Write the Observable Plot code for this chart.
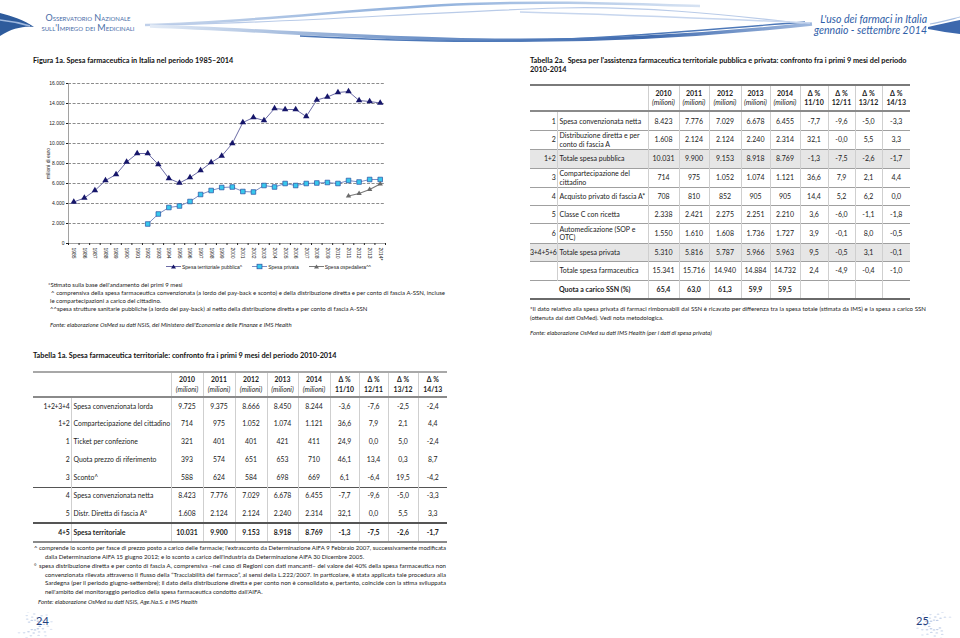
<!DOCTYPE html>
<html><head><meta charset="utf-8">
<script src="https://cdn.jsdelivr.net/npm/d3@7"></script>
<script src="https://cdn.jsdelivr.net/npm/@observablehq/plot@0.6"></script>
<style>
html,body{margin:0;padding:0;background:#fff;}
#page{position:relative;width:960px;height:638px;overflow:hidden;font-family:Lato,"Open Sans",sans-serif;color:#1a1a1a;}
.abs{position:absolute;white-space:nowrap;}
.title{font-weight:bold;font-size:7.3px;color:#111;}
.note{font-size:6px;color:#222;}
.just{text-align:justify;text-align-last:justify;}
.it{font-style:italic;}
table.t{position:absolute;border-collapse:collapse;table-layout:fixed;font-size:7px;color:#222;}
table.t td{padding:0 2px;text-align:center;vertical-align:middle;border-left:1px solid #cfcfcf;border-right:1px solid #cfcfcf;overflow:visible;line-height:1.15;}
table.t td:first-child{border-left:none;}
table.t td:last-child{border-right:none;}
table.t td.num{text-align:right;padding:0 1px 0 0;white-space:nowrap;letter-spacing:-0.25px;}
table.t td.lab{text-align:left;padding-left:2px;white-space:normal;}
#t1a td.lab{white-space:nowrap;}
#t1a{font-size:6.85px;}
table.t tr.hd td{font-weight:bold;line-height:1.35;}
table.t tr.hd td i{font-weight:normal;}
#t2a tr.hd td{border-top:2px solid #7a7a7a;border-bottom:2px solid #8a8a8a;}
#t2a tr.r td{border-top:1.5px solid #a0a0a0;}
#t2a tr.g td{background:#e6e6e6;}
#t2a tr.b td{font-weight:bold;border-bottom:2px solid #6a6a6a;}
#t1a tr.hd td{border-top:2px solid #a8a8a8;border-bottom:2px solid #8a8a8a;}
#t1a tr.k td{border-top:1.5px solid #555;}
#t1a tr.b td{font-weight:bold;border-top:2px solid #555;border-bottom:2px solid #8a8a8a;}
.pn{position:absolute;font-size:11px;color:#1f3f7f;}
</style></head>
<body><div id="page">

<svg class="abs" style="left:0;top:0" width="960" height="50">
  <defs>
    <linearGradient id="gA" x1="0" x2="1"><stop offset="0" stop-color="#c9d7ec"/><stop offset="0.5" stop-color="#8fb0dc"/><stop offset="1" stop-color="#d6e2f2"/></linearGradient>
    <linearGradient id="gB" x1="0" x2="1"><stop offset="0" stop-color="#e3ebf6"/><stop offset="0.4" stop-color="#6f93c8"/><stop offset="0.75" stop-color="#3f6aae"/><stop offset="1" stop-color="#9fb8de"/></linearGradient>
  </defs>
  <path d="M0,13 C12,16 24,20 34,27 C24,26 12,28 0,36 Z" fill="#2e5b9c"/>
  <path d="M0,20 C10,21 20,23 30,26" stroke="#9fb8de" stroke-width="1.5" fill="none"/>
  <path d="M145,25 C260,22 360,8 470,4 C560,1 620,4 700,6" stroke="url(#gA)" stroke-width="2.5" fill="none"/>
  <path d="M145,25 C280,24 420,12 560,8 C640,6 720,14 790,22" stroke="#b9cbe8" stroke-width="1.2" fill="none"/>
  <path d="M150,26 C260,30 360,38 480,40 C600,42 720,34 812,24" stroke="url(#gB)" stroke-width="3.5" fill="none"/>
  <path d="M300,36 C380,40 440,42 500,41 C600,40 700,30 805,22" stroke="#4d78b8" stroke-width="1.4" fill="none"/>
  <path d="M520,12 C600,14 700,18 810,23" stroke="#c7d6ee" stroke-width="1.5" fill="none"/>
  <path d="M928,27 C940,24 950,22 960,20 L960,34 C950,33 940,31 928,29 Z" fill="#3c68ad"/>
  <path d="M930,24 C942,22 952,19 960,17" stroke="#a9c0e2" stroke-width="1.2" fill="none"/>
</svg>

<div class="abs" style="left:37px;top:13px;font-variant:small-caps;color:#4a6ea8;font-size:9px;line-height:10px;text-align:center;width:102px;">Osservatorio Nazionale<br>sull'Impiego dei Medicinali</div>
<div class="abs it" style="right:33px;top:14px;color:#2f5ea8;font-size:10.5px;line-height:11px;text-align:right;">L'uso dei farmaci in Italia<br>gennaio - settembre 2014</div>

<div class="abs title" style="left:33px;top:56px;">Figura 1a. Spesa farmaceutica in Italia nel periodo 1985–2014</div>
<div class="abs title" style="left:530px;top:56px;">Tabella 2a.&nbsp; Spesa per l'assistenza farmaceutica territoriale pubblica e privata: confronto fra i primi 9 mesi del periodo<br>2010-2014</div>

<div id="chart" class="abs" style="left:0;top:75px;"></div>
<div id="legend" class="abs" style="left:166px;top:263px;font-family:'Liberation Sans',Arial,sans-serif;font-size:5px;color:#222;display:flex;align-items:center;"></div>

<div class="abs note" style="left:48px;top:281px;">*Stimato sulla base dell'andamento dei primi 9 mesi</div>
<div class="abs note just fit" style="left:51px;top:289px;width:394px;">^ comprensiva della spesa farmaceutica convenzionata (a lordo del pay-back e sconto) e della distribuzione diretta e per conto di fascia A-SSN, incluse</div>
<div class="abs note" style="left:50px;top:297px;">le compartecipazioni a carico del cittadino.</div>
<div class="abs note" style="left:50px;top:305px;">^^spesa strutture sanitarie pubbliche (a lordo del pay-back) al netto della distribuzione diretta e per conto di fascia A-SSN</div>
<div class="abs note it" style="left:50px;top:321px;">Fonte: elaborazione OsMed su dati NSIS, del Ministero dell'Economia e delle Finanze e IMS Health</div>

<div class="abs title" style="left:33px;top:351px;">Tabella 1a. Spesa farmaceutica territoriale: confronto fra i primi 9 mesi del periodo 2010-2014</div>

<table id="t2a" class="t" style="left:530px;top:84px;width:380px;"></table>
<table id="t1a" class="t" style="left:33px;top:371px;width:414px;"></table>

<div class="abs note just fit" style="left:530px;top:305px;width:396px;">*Il dato relativo alla spesa privata di farmaci rimborsabili dal SSN è ricavato per differenza tra la spesa totale (stimata da IMS) e la spesa a carico SSN</div>
<div class="abs note" style="left:530px;top:314px;">(ottenuta dai dati OsMed). Vedi nota metodologica.</div>
<div class="abs note it" style="left:530px;top:329px;">Fonte: elaborazione OsMed su dati IMS Health (per i dati di spesa privata)</div>

<div class="abs note" style="left:34px;top:544px;">^</div>
<div class="abs note just fit" style="left:39px;top:544px;width:407px;">comprende lo sconto per fasce di prezzo posto a carico delle farmacie; l'extrasconto da Determinazione AIFA 9 Febbraio 2007, successivamente modificata</div>
<div class="abs note" style="left:45px;top:553px;">dalla Determinazione AIFA 15 giugno 2012; e lo sconto a carico dell'industria da Determinazione AIFA 30 Dicembre 2005.</div>
<div class="abs note" style="left:34px;top:562px;">°</div>
<div class="abs note just fit" style="left:39px;top:562px;width:407px;">spesa distribuzione diretta e per conto di fascia A, comprensiva –nel caso di Regioni con dati mancanti– del valore del 40% della spesa farmaceutica non</div>
<div class="abs note just fit" style="left:45px;top:571px;width:401px;">convenzionata rilevata attraverso il flusso della “Tracciabilità del farmaco”, ai sensi della L.222/2007. In particolare, è stata applicata tale procedura alla</div>
<div class="abs note just fit" style="left:45px;top:579px;width:401px;">Sardegna (per il periodo giugno-settembre); il dato della distribuzione diretta e per conto non è consolidato e, pertanto, coincide con la stima sviluppata</div>
<div class="abs note" style="left:45px;top:588px;">nell'ambito del monitoraggio periodico della spesa farmaceutica condotto dall'AIFA.</div>
<div class="abs note it" style="left:38px;top:598px;">Fonte: elaborazione OsMed su dati NSIS, Age.Na.S. e IMS Health</div>

<svg class="abs" style="left:14px;top:612px" width="40" height="26" id="dots1"></svg>
<svg class="abs" style="left:915px;top:612px" width="40" height="26" id="dots2"></svg>
<div class="pn" style="left:36px;top:614px;">24</div>
<div class="pn" style="left:916px;top:614px;">25</div>

</div>
<script>
// ---------- Chart data ----------
const years = ["1985","1986","1987","1988","1989","1990","1991","1992","1993","1994","1995","1996","1997","1998","1999","2000","2001","2002","2003","2004","2005","2006","2007","2008","2009","2010","2011","2012","2013","2014*"];
const spesaPubblica = [4150,4550,5300,6300,6900,8150,9000,9000,7900,6500,6050,6600,7300,8100,8750,10000,12100,12600,12300,13500,13400,13400,12700,14350,14650,15100,15200,14300,14200,14050];
const anniPrivata = ["1992","1993","1994","1995","1996","1997","1998","1999","2000","2001","2002","2003","2004","2005","2006","2007","2008","2009","2010","2011","2012","2013","2014*"];
const spesaPrivata = [1950,2950,3600,3750,4200,4900,5300,5600,5650,5200,5150,5800,5650,6000,5800,6000,6050,6100,6000,6300,6150,6400,6400];
const anniOspedaliera = ["2011","2012","2013","2014*"];
const spesaOspedaliera = [4750,5000,5400,5950];
const yTicks = [0,2000,4000,6000,8000,10000,12000,14000,16000];
const seriesNames = ["Spesa territoriale pubblica^","Spesa privata","Spesa ospedaliera^^"];

// ---------- Table 2a data ----------
const t2aAnni = ["2010","2011","2012","2013","2014"];
const t2aDelta = ["11/10","12/11","13/12","14/13"];
const t2aNumeri = ["1","2","1+2","3","4","5","6","3+4+5+6","",""];
const t2aVoci = ["Spesa convenzionata netta","Distribuzione diretta e per conto di fascia A","Totale spesa pubblica","Compartecipazione del cittadino","Acquisto privato di fascia A*","Classe C con ricetta","Automedicazione (SOP e OTC)","Totale spesa privata","Totale spesa farmaceutica","Quota a carico SSN (%)"];
const t2aValori = [
  ["8.423","7.776","7.029","6.678","6.455"],
  ["1.608","2.124","2.124","2.240","2.314"],
  ["10.031","9.900","9.153","8.918","8.769"],
  ["714","975","1.052","1.074","1.121"],
  ["708","810","852","905","905"],
  ["2.338","2.421","2.275","2.251","2.210"],
  ["1.550","1.610","1.608","1.736","1.727"],
  ["5.310","5.816","5.787","5.966","5.963"],
  ["15.341","15.716","14.940","14.884","14.732"],
  ["65,4","63,0","61,3","59,9","59,5"]];
const t2aVariazioni = [
  ["-7,7","-9,6","-5,0","-3,3"],
  ["32,1","-0,0","5,5","3,3"],
  ["-1,3","-7,5","-2,6","-1,7"],
  ["36,6","7,9","2,1","4,4"],
  ["14,4","5,2","6,2","0,0"],
  ["3,6","-6,0","-1,1","-1,8"],
  ["3,9","-0,1","8,0","-0,5"],
  ["9,5","-0,5","3,1","-0,1"],
  ["2,4","-4,9","-0,4","-1,0"],
  ["","","",""]];

// ---------- Table 1a data ----------
const t1aAnni = ["2010","2011","2012","2013","2014"];
const t1aDelta = ["11/10","12/11","13/12","14/13"];
const t1aNumeri = ["1+2+3+4","1+2","1","2","3","4","5","4+5"];
const t1aVoci = ["Spesa convenzionata lorda","Compartecipazione del cittadino","Ticket per confezione","Quota prezzo di riferimento","Sconto^","Spesa convenzionata netta","Distr. Diretta di fascia A°","Spesa territoriale"];
const t1aValori = [
  ["9.725","9.375","8.666","8.450","8.244"],
  ["714","975","1.052","1.074","1.121"],
  ["321","401","401","421","411"],
  ["393","574","651","653","710"],
  ["588","624","584","698","669"],
  ["8.423","7.776","7.029","6.678","6.455"],
  ["1.608","2.124","2.124","2.240","2.314"],
  ["10.031","9.900","9.153","8.918","8.769"]];
const t1aVariazioni = [
  ["-3,6","-7,6","-2,5","-2,4"],
  ["36,6","7,9","2,1","4,4"],
  ["24,9","0,0","5,0","-2,4"],
  ["46,1","13,4","0,3","8,7"],
  ["6,1","-6,4","19,5","-4,2"],
  ["-7,7","-9,6","-5,0","-3,3"],
  ["32,1","0,0","5,5","3,3"],
  ["-1,3","-7,5","-2,6","-1,7"]];

// ---------- Chart ----------
const itFmt = d3.formatLocale({decimal:",",thousands:".",grouping:[3],currency:["","€"],minus:"-"}).format(",d");
const pub = years.map((a,i)=>({anno:a, v:spesaPubblica[i]}));
const pri = anniPrivata.map((a,i)=>({anno:a, v:spesaPrivata[i]}));
const osp = anniOspedaliera.map((a,i)=>({anno:a, v:spesaOspedaliera[i]}));
const xi = d => years.indexOf(d.anno);
const C = {pubLine:"#6c6ca6", pubDot:"#16166a", priLine:"#7d8fc4", priFill:"#38c8ee", priStroke:"#2a4fa0", ospLine:"#7a7a7a", ospDot:"#6a6a6a"};

const chart = Plot.plot({
  width:400, height:190, marginLeft:68, marginRight:15, marginTop:8, marginBottom:22,
  style:{fontFamily:"'Liberation Sans',Arial,sans-serif", fontSize:"5px", color:"#222", background:"transparent"},
  x:{domain:[-0.5, years.length-0.5]},
  y:{domain:[0,16000]},
  marks:[
    Plot.gridY(yTicks.slice(1), {stroke:"#6f6f6f", strokeOpacity:1, strokeDasharray:"3,1.6", strokeWidth:0.8}),
    Plot.ruleX([-0.5], {stroke:"#8a8a8a", strokeWidth:0.8}),
    Plot.ruleY([0], {stroke:"#8a8a8a", strokeWidth:0.8}),
    Plot.axisY(yTicks, {tickFormat:itFmt, tickSize:2, tickPadding:2, fontSize:5, label:"milioni di euro", labelAnchor:"center", labelOffset:22, labelArrow:"none"}),
    Plot.axisX(d3.range(years.length+1).map(i=>i-0.5), {tickFormat:()=>"", tickSize:2, label:null}),
    Plot.axisX(d3.range(years.length), {tickFormat:i=>years[i], tickSize:0, tickPadding:4, tickRotate:90, fontSize:5, label:null}),
    Plot.line(pub, {x:xi, y:"v", stroke:C.pubLine, strokeWidth:1}),
    Plot.line(pri, {x:xi, y:"v", stroke:C.priLine, strokeWidth:1}),
    Plot.line(osp, {x:xi, y:"v", stroke:C.ospLine, strokeWidth:1.2}),
    Plot.dot(pub, {x:xi, y:"v", symbol:"triangle", fill:C.pubDot, r:2.4}),
    Plot.dot(pri, {x:xi, y:"v", symbol:"square", fill:C.priFill, stroke:C.priStroke, strokeWidth:0.7, r:2.6}),
    Plot.dot(osp, {x:xi, y:"v", symbol:"triangle", fill:C.ospDot, r:2})
  ]
});
document.getElementById("chart").appendChild(chart);

// legend
const legSpecs = [
  {name:seriesNames[0], line:C.pubLine, shape:"tri", fill:C.pubDot, stroke:"none"},
  {name:seriesNames[1], line:C.priLine, shape:"sq", fill:C.priFill, stroke:C.priStroke},
  {name:seriesNames[2], line:C.ospLine, shape:"tri", fill:C.ospDot, stroke:"none"}];
const leg = document.getElementById("legend");
legSpecs.forEach((s,k)=>{
  const mk = s.shape==="tri" ? `<path d="M7.5,1.5 L10,5.5 L5,5.5 Z" fill="${s.fill}"/>` : `<rect x="5" y="1.2" width="5" height="4.6" fill="${s.fill}" stroke="${s.stroke}" stroke-width="0.7"/>`;
  leg.insertAdjacentHTML("beforeend", `<span style="display:inline-flex;align-items:center;margin-right:${k<2?10:0}px"><svg width="15" height="7"><line x1="0" y1="3.5" x2="15" y2="3.5" stroke="${s.line}" stroke-width="1"/>${mk}</svg><span style="margin-left:1px">${s.name}</span></span>`);
});

// ---------- Tables ----------
function buildTable(id, colW, hdH, rowH, anni, delta, numeri, voci, valori, variazioni, rowClass, mergeRow) {
  const t = document.getElementById(id);
  let h = "<colgroup>" + colW.map(w=>`<col style="width:${w}px">`).join("") + "</colgroup>";
  h += `<tr class="hd" style="height:${hdH}px"><td colspan="2"></td>` +
       anni.map(a=>`<td>${a}<br><i>(milioni)</i></td>`).join("") +
       delta.map(d=>`<td>Δ %<br>${d}</td>`).join("") + "</tr>";
  voci.forEach((v,i)=>{
    const cls = rowClass(i);
    h += `<tr class="${cls}" style="height:${rowH[i]}px">`;
    if (mergeRow === i) h += `<td colspan="2" class="lab" style="padding-left:${colW[0]+2}px">${v}</td>`;
    else h += `<td class="num">${numeri[i]}</td><td class="lab">${v}</td>`;
    h += valori[i].map(x=>`<td>${x}</td>`).join("") + variazioni[i].map(x=>`<td>${x}</td>`).join("") + "</tr>";
  });
  t.innerHTML = h;
}
buildTable("t2a", [27,91,31,30,32,29,30,28,27,27,28], 26, [19,19,19,19,18,18,20,18,19,19],
  t2aAnni, t2aDelta, t2aNumeri, t2aVoci, t2aValori, t2aVariazioni,
  i => "r" + (i===2||i===7 ? " g" : "") + (i===9 ? " b" : ""), 9);
buildTable("t1a", [38,100,32,32,32,31,32,29,29,30,29], 25, [18,18,18,18,18,18,18,19],
  t1aAnni, t1aDelta, t1aNumeri, t1aVoci, t1aValori, t1aVariazioni,
  i => (i===5 ? "k" : "") + (i===7 ? "b" : ""), -1);

// fit justified lines to their target width
document.querySelectorAll(".fit").forEach(el=>{
  const w = parseFloat(el.style.width);
  let fs = 6.2;
  el.style.width = "max-content";
  el.style.fontSize = fs+"px";
  while (el.getBoundingClientRect().width > w && fs > 4) { fs -= 0.1; el.style.fontSize = fs+"px"; }
  el.style.width = w+"px";
});

// page-number ornaments
function dots(id, flip) {
  const s = document.getElementById(id);
  let h = "";
  for (let r=0; r<4; r++) for (let a=0; a<9; a++) {
    const ang = (flip ? Math.PI : 0) + (a/9)*Math.PI*1.6 - 0.8*Math.PI + r*0.2;
    const cx = 20 + Math.cos(ang)*(6+r*4), cy = 13 + Math.sin(ang)*(5+r*3);
    h += `<ellipse cx="${cx.toFixed(1)}" cy="${cy.toFixed(1)}" rx="1.4" ry="0.7" fill="#b8c8e4" opacity="${0.9-r*0.15}"/>`;
  }
  s.innerHTML = h;
}
dots("dots1", false); dots("dots2", true);
</script>
</body></html>
